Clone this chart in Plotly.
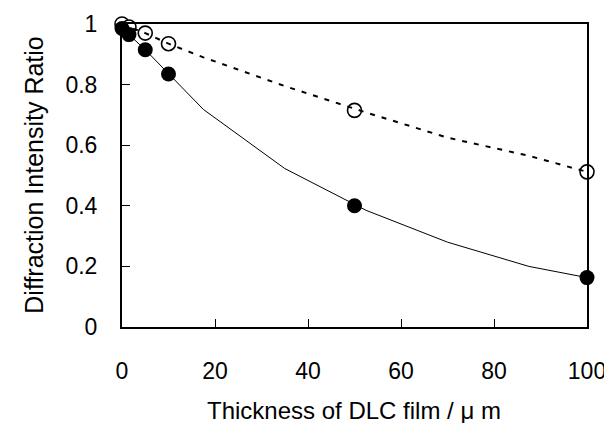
import plotly.graph_objects as go

# measured points
thickness = [0, 1.5, 5, 10, 50, 100]
ratio_filled = [0.985, 0.965, 0.915, 0.835, 0.400, 0.163]
ratio_open = [1.000, 0.990, 0.970, 0.935, 0.715, 0.512]

# drawn curves
curve_x = [0, 1.5, 5, 10, 17.5, 35, 52.5, 70, 87.5, 100]
curve_filled = [0.985, 0.965, 0.915, 0.835, 0.718, 0.523, 0.385, 0.280, 0.200, 0.163]
curve_open = [1.000, 0.990, 0.970, 0.935, 0.890, 0.795, 0.708, 0.625, 0.565, 0.512]

x_ticks = [0, 20, 40, 60, 80, 100]
y_ticks = [0, 0.2, 0.4, 0.6, 0.8, 1]
y_tick_text = ["0", "0.2", "0.4", "0.6", "0.8", "1"]

FONT = "Liberation Sans, Arial, sans-serif"

fig = go.Figure()
fig.add_trace(go.Scatter(
    x=thickness, y=ratio_open, mode="markers", cliponaxis=False,
    marker=dict(symbol="circle", size=14, color="white",
                line=dict(color="black", width=1.6)),
    showlegend=False))
fig.add_trace(go.Scatter(
    x=curve_x, y=curve_open, mode="lines", cliponaxis=False,
    line=dict(color="black", width=2, dash="5px,7px"),
    showlegend=False))
fig.add_trace(go.Scatter(
    x=curve_x, y=curve_filled, mode="lines", cliponaxis=False,
    line=dict(color="black", width=1),
    showlegend=False))
fig.add_trace(go.Scatter(
    x=thickness, y=ratio_filled, mode="markers", cliponaxis=False,
    marker=dict(symbol="circle", size=15, color="black",
                line=dict(color="black", width=0)),
    showlegend=False))

fig.update_layout(
    template="none",
    width=612, height=423,
    margin=dict(l=114, r=33, t=16, b=104, pad=0),
    paper_bgcolor="white", plot_bgcolor="white",
    font=dict(family=FONT, size=23, color="black"),
    xaxis=dict(range=[0, 100], tickvals=x_ticks, ticks="inside", ticklen=8,
               tickwidth=1, tickcolor="black", showline=True, linewidth=2,
               linecolor="black", mirror=True, showgrid=False, zeroline=False,
               automargin=False, ticklabelstandoff=22, tickfont=dict(size=23)),
    yaxis=dict(range=[0, 1], tickvals=y_ticks, ticktext=y_tick_text,
               ticks="inside", ticklen=8, tickwidth=1, tickcolor="black",
               showline=True, linewidth=2, linecolor="black", mirror=True,
               showgrid=False, zeroline=False, automargin=False,
               ticklabelstandoff=18, tickfont=dict(size=23)),
    annotations=[
        dict(text="Thickness of DLC film / μ m", xref="paper", yref="paper",
             x=0.499, y=-0.274, xanchor="center", yanchor="middle",
             showarrow=False, font=dict(size=24)),
        dict(text="Diffraction Intensity Ratio", xref="paper", yref="paper",
             x=-0.191, y=0.5, xanchor="center", yanchor="middle",
             textangle=-90, showarrow=False, font=dict(size=25)),
    ],
)

fig.write_html("out.html")
